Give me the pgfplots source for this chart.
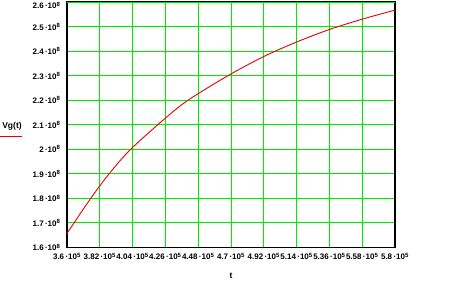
\documentclass[border=0pt]{standalone}
\usepackage{pgfplots}
\pgfplotsset{compat=1.18}
\usepackage{fontspec}
\setmainfont{Liberation Sans}
\definecolor{gridgreen}{RGB}{0,235,0}
\definecolor{curvered}{RGB}{230,0,0}
\begin{document}
\begin{tikzpicture}[x=1pt,y=1pt]
\begin{axis}[
  at={(67pt,46.5pt)}, anchor=south west,
  scale only axis, width=328pt, height=245.5pt,
  xmin=3.6, xmax=5.8, ymin=1.6, ymax=2.6,
  xtick={3.6,3.82,4.04,4.26,4.48,4.7,4.92,5.14,5.36,5.58,5.8},
  ytick={1.6,1.7,1.8,1.9,2.0,2.1,2.2,2.3,2.4,2.5},
  extra y ticks={2.6},
  extra y tick style={grid=major, yticklabel style={yshift=-3.5pt}},
  grid=major, major grid style={gridgreen, line width=0.9pt},
  axis line style={black, line width=1.1pt},
  major tick length=0pt,
  /pgf/number format/assume math mode=true,
  xticklabel style={font=\fontsize{8}{9}\selectfont\bfseries, yshift=-2pt},
  yticklabel style={font=\fontsize{8}{9}\selectfont\bfseries, xshift=-3pt},
  xticklabel={\pgfmathprintnumber[fixed,precision=2]{\tick}\,·10\textsuperscript{5}},
  yticklabel={\pgfmathprintnumber[fixed,precision=2]{\tick}\,·10\textsuperscript{8}},
  clip=false,
]
\addplot[curvered, line width=0.9pt, smooth] coordinates {
(3.600,1.658) (3.647,1.700) (3.759,1.800) (3.882,1.900) (4.027,2.000)
(4.260,2.127) (4.412,2.200) (4.680,2.300) (4.920,2.378) (5.140,2.437)
(5.360,2.488) (5.580,2.530) (5.800,2.567)
};
\end{axis}
\node[font=\fontsize{8.5}{9}\selectfont\bfseries] at (231pt,18pt) {t};
\node[font=\fontsize{8.5}{9}\selectfont\bfseries] at (12pt,168pt) {Vg(t)};
\draw[curvered, line width=0.9pt] (0pt,158pt) -- (22pt,158pt);
\pgfresetboundingbox
\path (0pt,0pt) rectangle (455pt,294pt);
\end{tikzpicture}
\end{document}
